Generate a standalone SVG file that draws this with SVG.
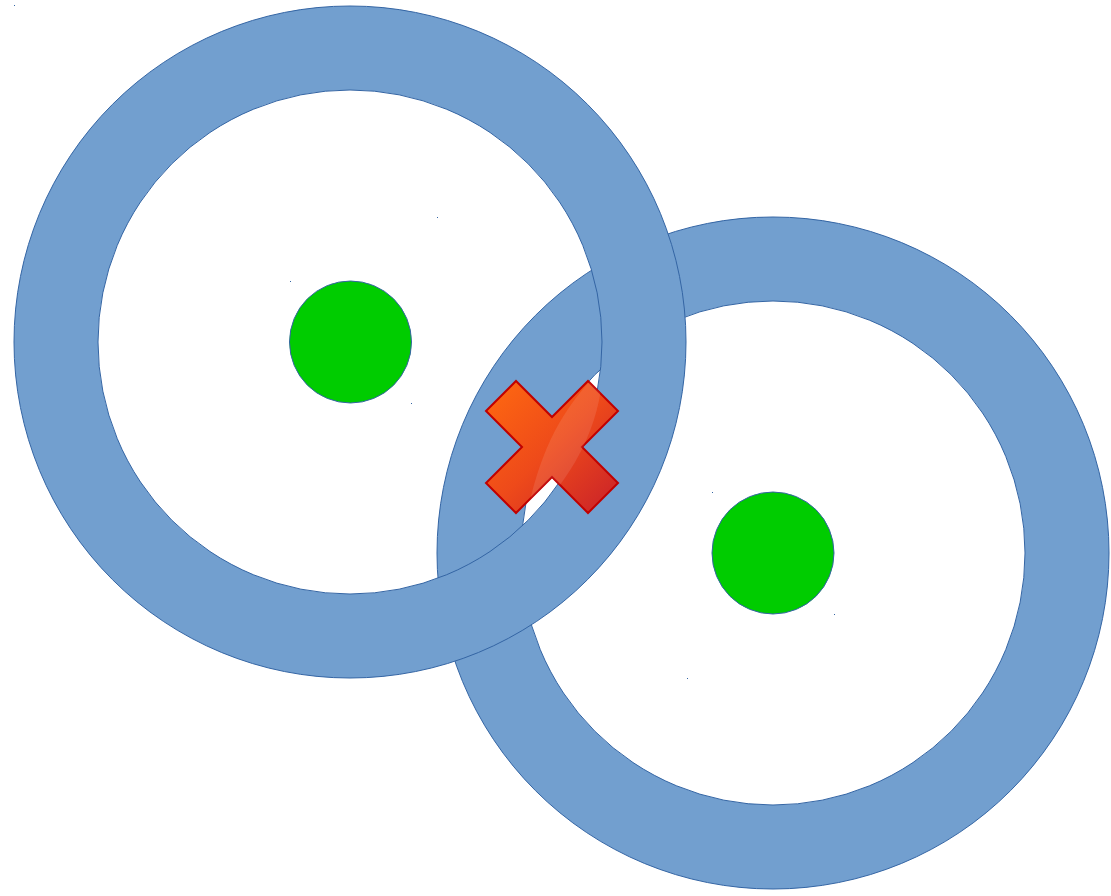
<svg xmlns="http://www.w3.org/2000/svg" width="1111" height="896" viewBox="0 0 1111 896">
  <style>
    .ring { fill: #729fcf; stroke: #3465a4; stroke-width: 1; fill-rule: evenodd; }
    .core { fill: #00cc00; stroke: #3465a4; stroke-width: 1; }
    .dot { fill: #3465a4; }
  </style>
  <defs>
    <linearGradient id="xgrad" x1="0" y1="0" x2="1" y2="1">
      <stop offset="0" stop-color="#ff6a10"/>
      <stop offset="0.5" stop-color="#ee4a1a"/>
      <stop offset="1" stop-color="#c8202a"/>
    </linearGradient>
    <clipPath id="xclip">
      <polygon points="486,411 516,381 552,417 588,381 618,411 582,447 618,483 588,513 552,477 516,513 486,483 522,447"/>
    </clipPath>
  </defs>
  <rect width="1111" height="896" fill="#ffffff"/>
  <g id="ring-right">
    <path class="ring" d="M437,553 a336,336 0 1,0 672,0 a336,336 0 1,0 -672,0 Z M521,553 a252,252 0 1,0 504,0 a252,252 0 1,0 -504,0 Z"/>
  </g>
  <g id="ring-left">
    <path class="ring" d="M14,342 a336,336 0 1,0 672,0 a336,336 0 1,0 -672,0 Z M98,342 a252,252 0 1,0 504,0 a252,252 0 1,0 -504,0 Z"/>
  </g>
  <g id="core-left">
    <circle class="core" cx="350.5" cy="342" r="61"/>
  </g>
  <g id="core-right">
    <circle class="core" cx="773" cy="553" r="61"/>
  </g>
  <g id="cross">
    <polygon points="486,411 516,381 552,417 588,381 618,411 582,447 618,483 588,513 552,477 516,513 486,483 522,447" fill="url(#xgrad)" stroke="#c00000" stroke-width="2" stroke-linejoin="miter"/>
    <path d="M603,368 C570,400 540,440 525,525 C560,490 600,440 603,368 Z" fill="#ffffff" opacity="0.1" clip-path="url(#xclip)"/>
  </g>
  <g id="marks">
    <rect class="dot" x="14" y="5" width="1" height="1"/>
    <rect class="dot" x="437" y="217" width="1" height="1"/>
    <rect class="dot" x="290" y="281" width="1" height="1"/>
    <rect class="dot" x="411" y="403" width="1" height="1"/>
    <rect class="dot" x="712" y="492" width="1" height="1"/>
    <rect class="dot" x="834" y="614" width="1" height="1"/>
    <rect class="dot" x="687" y="678" width="1" height="1"/>
  </g>
</svg>
